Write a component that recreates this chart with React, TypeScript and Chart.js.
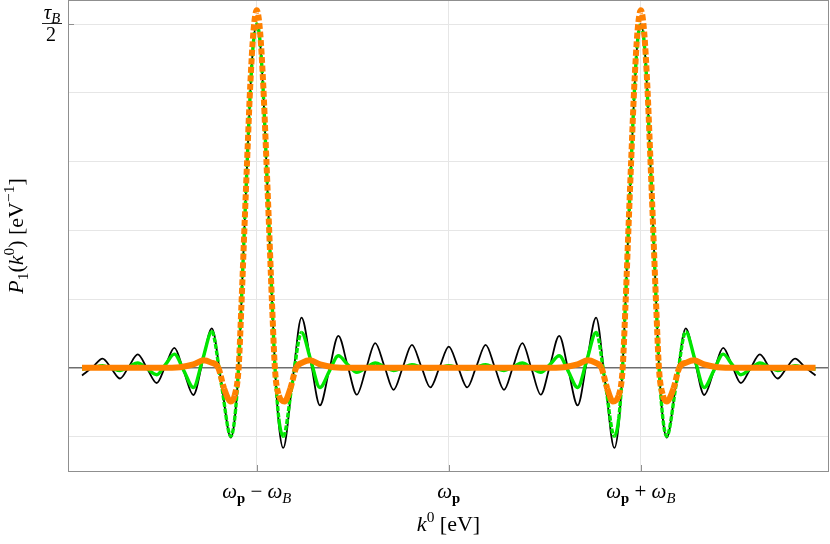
import { useEffect, useRef } from "react";
import { Chart, registerables } from "chart.js";

Chart.register(...registerables);

// x in units where omega_p = 0 and omega_B = 1; y in units of tau_B/2
const kGrid = [
  -1.910, -1.855, -1.803, -1.757, -1.712, -1.666, -1.620, -1.570, -1.521, -1.475,
  -1.429, -1.380, -1.330, -1.282, -1.234, -1.185, -1.135, -1.115, -1.095, -1.080,
  -1.064, -1.049, -1.034, -1.017, -1.000, -0.983, -0.966, -0.951, -0.936, -0.920,
  -0.905, -0.885, -0.862, -0.815, -0.767, -0.719, -0.671, -0.623, -0.575, -0.527,
  -0.479, -0.431, -0.383, -0.335, -0.2875, -0.240, -0.192, -0.144, -0.096, -0.048,
  0,
  0.048, 0.096, 0.144, 0.192, 0.240, 0.2875, 0.335, 0.383, 0.431, 0.479,
  0.527, 0.575, 0.623, 0.671, 0.719, 0.767, 0.815, 0.862, 0.885, 0.905,
  0.920, 0.936, 0.951, 0.966, 0.983, 1.000, 1.017, 1.034, 1.049, 1.064,
  1.080, 1.095, 1.115, 1.135, 1.185, 1.234, 1.282, 1.330, 1.380, 1.429,
  1.475, 1.521, 1.570, 1.620, 1.666, 1.712, 1.757, 1.803, 1.855, 1.910,
];

const blackValues = [
  -0.022, 0.002, 0.027, -0.002, -0.031, 0.004, 0.039, -0.003, -0.044, 0.007,
  0.058, -0.010, -0.079, 0.018, 0.115, -0.040, -0.203, -0.150, 0.000, 0.19,
  0.41, 0.61, 0.80, 0.95, 1.00, 0.95, 0.80, 0.61, 0.41, 0.19,
  0.000, -0.165, -0.233, -0.044, 0.146, 0.019, -0.109, -0.008, 0.093, 0.007,
  -0.078, -0.003, 0.072, 0.004, -0.064, 0.001, 0.067, 0.005, -0.057, 0.002,
  0.062,
  0.002, -0.057, 0.005, 0.067, 0.001, -0.064, 0.004, 0.072, -0.003, -0.078,
  0.007, 0.093, -0.008, -0.109, 0.019, 0.146, -0.044, -0.233, -0.165, 0.000,
  0.19, 0.41, 0.61, 0.80, 0.95, 1.00, 0.95, 0.80, 0.61, 0.41,
  0.19, 0.000, -0.150, -0.203, -0.040, 0.115, 0.018, -0.079, -0.010, 0.058,
  0.007, -0.044, -0.003, 0.039, 0.004, -0.031, -0.002, 0.027, 0.002, -0.022,
];

const greenValues = [
  -0.004, 0.001, 0.006, -0.001, -0.008, 0.003, 0.014, -0.003, -0.020, 0.010,
  0.040, -0.008, -0.057, 0.024, 0.105, -0.045, -0.199, -0.148, 0.000, 0.19,
  0.41, 0.61, 0.80, 0.95, 1.00, 0.95, 0.80, 0.61, 0.41, 0.19,
  0.000, -0.148, -0.199, -0.045, 0.103, 0.023, -0.057, -0.011, 0.035, 0.010,
  -0.013, 0.000, 0.014, 0.003, -0.008, 0.000, 0.009, 0.002, -0.004, 0.001,
  0.006,
  0.001, -0.004, 0.002, 0.009, 0.000, -0.008, 0.003, 0.014, 0.000, -0.013,
  0.010, 0.035, -0.011, -0.057, 0.023, 0.103, -0.045, -0.199, -0.148, 0.000,
  0.19, 0.41, 0.61, 0.80, 0.95, 1.00, 0.95, 0.80, 0.61, 0.41,
  0.19, 0.000, -0.148, -0.199, -0.045, 0.105, 0.024, -0.057, -0.008, 0.040,
  0.010, -0.020, -0.003, 0.014, 0.003, -0.008, -0.001, 0.006, 0.001, -0.004,
];

const kOrange = [
  -1.910, -1.500, -1.400, -1.330, -1.278, -1.240, -1.200, -1.170, -1.135, -1.115,
  -1.095, -1.080, -1.064, -1.049, -1.034, -1.017, -1.000, -0.983, -0.966, -0.951,
  -0.936, -0.920, -0.905, -0.885, -0.855, -0.825, -0.795, -0.760, -0.722, -0.670,
  -0.600, -0.500, 0,
  0.500, 0.600, 0.670, 0.722, 0.760, 0.795, 0.825, 0.855, 0.885, 0.905,
  0.920, 0.936, 0.951, 0.966, 0.983, 1.000, 1.017, 1.034, 1.049, 1.064,
  1.080, 1.095, 1.115, 1.135, 1.170, 1.200, 1.240, 1.278, 1.330, 1.400,
  1.500, 1.910,
];

const orangeValues = [
  0, 0, 0.002, 0.010, 0.022, 0.016, 0.000, -0.060, -0.098, -0.080,
  -0.005, 0.18, 0.41, 0.62, 0.82, 0.98, 1.04, 0.98, 0.82, 0.62,
  0.41, 0.18, -0.005, -0.080, -0.098, -0.060, 0.000, 0.016, 0.022, 0.010,
  0.002, 0, 0,
  0, 0.002, 0.010, 0.022, 0.016, 0.000, -0.060, -0.098, -0.080, -0.005,
  0.18, 0.41, 0.62, 0.82, 0.98, 1.04, 0.98, 0.82, 0.62, 0.41,
  0.18, -0.005, -0.080, -0.098, -0.060, 0.000, 0.016, 0.022, 0.010, 0.002,
  0, 0,
];

const xTickValues = [-1, 0, 1];
const yGridValues = [-0.2, 0, 0.2, 0.4, 0.6, 0.8, 1.0];
const yLabelValue = 1.0;

type Run = { t: string; f?: "i" | "n" | "b"; s?: "sub" | "sup" };

const xTickLabels: Run[][] = [
  [{ t: "ω", f: "i" }, { t: "p", f: "b", s: "sub" }, { t: " − ", f: "n" }, { t: "ω", f: "i" }, { t: "B", f: "i", s: "sub" }],
  [{ t: "ω", f: "i" }, { t: "p", f: "b", s: "sub" }],
  [{ t: "ω", f: "i" }, { t: "p", f: "b", s: "sub" }, { t: " + ", f: "n" }, { t: "ω", f: "i" }, { t: "B", f: "i", s: "sub" }],
];
const xTitle: Run[] = [{ t: "k", f: "i" }, { t: "0", f: "n", s: "sup" }, { t: " [eV]", f: "n" }];
const yTitle: Run[] = [
  { t: "P", f: "i" }, { t: "1", f: "n", s: "sub" }, { t: "(", f: "n" }, { t: "k", f: "i" },
  { t: "0", f: "n", s: "sup" }, { t: ") [eV", f: "n" }, { t: "−1", f: "n", s: "sup" }, { t: "]", f: "n" },
];
const yLabelNum: Run[] = [{ t: "τ", f: "i" }, { t: "B", f: "i", s: "sub" }];
const yLabelDen: Run[] = [{ t: "2", f: "n" }];

const FONT = '"Liberation Serif", "DejaVu Serif", serif';

function runFont(r: Run, size: number) {
  const sz = r.s ? size * 0.7 : size;
  const st = r.f === "i" ? "italic " : r.f === "b" ? "bold " : "";
  return `${st}${sz}px ${FONT}`;
}

function measureRuns(ctx: CanvasRenderingContext2D, runs: Run[], size: number) {
  let w = 0;
  for (const r of runs) {
    ctx.font = runFont(r, size);
    w += ctx.measureText(r.t).width;
  }
  return w;
}

function drawRuns(ctx: CanvasRenderingContext2D, runs: Run[], cx: number, baseline: number, size: number) {
  const total = measureRuns(ctx, runs, size);
  let x = cx - total / 2;
  ctx.textAlign = "left";
  ctx.textBaseline = "alphabetic";
  for (const r of runs) {
    ctx.font = runFont(r, size);
    const dy = r.s === "sub" ? size * 0.22 : r.s === "sup" ? -size * 0.4 : 0;
    ctx.fillText(r.t, x, baseline + dy);
    x += ctx.measureText(r.t).width;
  }
}

const decorPlugin = {
  id: "decor",
  afterDraw(chart: any) {
    const ctx: CanvasRenderingContext2D = chart.ctx;
    const { left, right, top, bottom } = chart.chartArea;
    const xs = chart.scales.x;
    const ys = chart.scales.y;
    ctx.save();
    // frame
    ctx.strokeStyle = "#8f8f8f";
    ctx.lineWidth = 1;
    ctx.strokeRect(left + 0.5, top - 0.5, right - left - 1, bottom - top + 1);
    // inner tick marks
    ctx.beginPath();
    for (const v of xTickValues) {
      const px = Math.round(xs.getPixelForValue(v)) + 0.5;
      ctx.moveTo(px, bottom);
      ctx.lineTo(px, bottom - 6);
    }
    const py = Math.round(ys.getPixelForValue(yLabelValue)) + 0.5;
    ctx.moveTo(left, py);
    ctx.lineTo(left + 6, py);
    ctx.stroke();

    ctx.fillStyle = "#000";
    // x tick labels
    xTickValues.forEach((v, i) => {
      drawRuns(ctx, xTickLabels[i], xs.getPixelForValue(v), bottom + 27, 21);
    });
    // x title
    drawRuns(ctx, xTitle, (left + right) / 2, bottom + 60, 22);
    // y title (rotated)
    ctx.save();
    ctx.translate(23, 236);
    ctx.rotate(-Math.PI / 2);
    drawRuns(ctx, yTitle, 0, 0, 22);
    ctx.restore();
    // y tick label: fraction tau_B / 2
    const fx = 52;
    drawRuns(ctx, yLabelNum, fx, py - 6, 21);
    ctx.strokeStyle = "#222";
    ctx.lineWidth = 1;
    ctx.beginPath();
    ctx.moveTo(fx - 10, py - 1);
    ctx.lineTo(fx + 10, py - 1);
    ctx.stroke();
    drawRuns(ctx, yLabelDen, fx - 1, py + 16, 20);
    ctx.restore();
  },
};

function steep(ctx: any, factor: number) {
  const dx = Math.abs(ctx.p1.x - ctx.p0.x);
  const dy = Math.abs(ctx.p1.y - ctx.p0.y);
  return dy > factor * dx;
}

export default function App() {
  const canvasRef = useRef<HTMLCanvasElement | null>(null);

  useEffect(() => {
    const canvas = canvasRef.current;
    if (!canvas) return;
    const toPts = (xs: number[], ys: number[]) => xs.map((x, i) => ({ x, y: ys[i] }));
    const chart = new Chart(canvas, {
      type: "line",
      data: {
        datasets: [
          {
            label: "orange",
            data: toPts(kOrange, orangeValues),
            borderColor: "rgb(255,128,0)",
            borderWidth: 6,
            pointRadius: 0,
            cubicInterpolationMode: "monotone",
            borderCapStyle: "butt",
            order: 1,
            segment: {
              borderDash: (c: any) => (steep(c, 3.5) ? [6, 2.5] : undefined),
            },
          },
          {
            label: "green",
            data: toPts(kGrid, greenValues),
            borderColor: "rgb(0,230,0)",
            borderWidth: 3.4,
            pointRadius: 0,
            cubicInterpolationMode: "monotone",
            order: 2,
            segment: {
              borderDash: (c: any) => (steep(c, 4) ? [5, 1.5] : undefined),
            },
          },
          {
            label: "black",
            data: toPts(kGrid, blackValues),
            borderColor: "#000",
            borderWidth: 1.8,
            pointRadius: 0,
            cubicInterpolationMode: "monotone",
            order: 3,
          },
        ],
      },
      options: {
        animation: false,
        responsive: false,
        devicePixelRatio: 1,
        layout: { padding: { left: 68, right: 1, top: 1, bottom: 73 } },
        plugins: { legend: { display: false }, tooltip: { enabled: false } },
        scales: {
          x: {
            type: "linear",
            min: -1.983,
            max: 1.98,
            afterBuildTicks: (axis: any) => {
              axis.ticks = xTickValues.map((v) => ({ value: v }));
            },
            afterFit: (s: any) => {
              s.height = 0;
            },
            ticks: { display: false },
            border: { display: false },
            grid: { color: "#e6e6e6", lineWidth: 1, drawTicks: false },
          },
          y: {
            type: "linear",
            min: -0.3,
            max: 1.067,
            afterBuildTicks: (axis: any) => {
              axis.ticks = yGridValues.map((v) => ({ value: v }));
            },
            afterFit: (s: any) => {
              s.width = 0;
            },
            ticks: { display: false },
            border: { display: false },
            grid: {
              drawTicks: false,
              color: (c: any) => (c.tick && c.tick.value === 0 ? "#6e6e6e" : "#e6e6e6"),
              lineWidth: (c: any) => (c.tick && c.tick.value === 0 ? 1.4 : 1),
            },
          },
        },
      },
      plugins: [decorPlugin],
    });
    return () => chart.destroy();
  }, []);

  return (
    <div style={{ position: "absolute", left: 0, top: 0, width: 830, height: 544, background: "#fff" }}>
      <canvas ref={canvasRef} width={830} height={544} style={{ width: 830, height: 544, display: "block" }} />
    </div>
  );
}
